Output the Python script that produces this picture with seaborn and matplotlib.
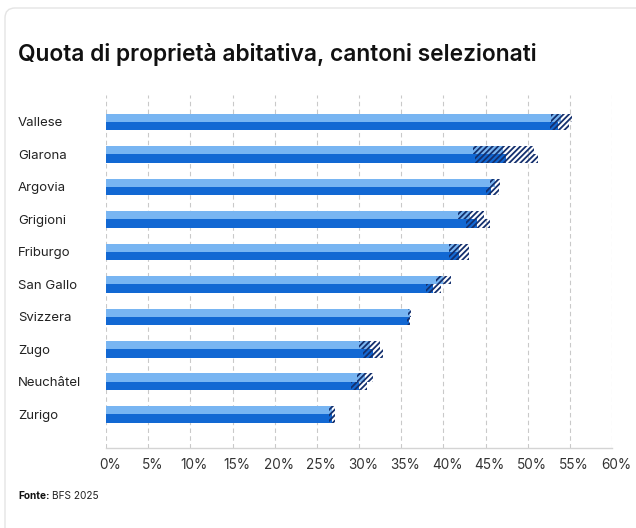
import matplotlib
matplotlib.use("Agg")
import matplotlib.pyplot as plt
import matplotlib.transforms as mtrans
import seaborn as sns
import pandas as pd
from matplotlib.patches import FancyBboxPatch
from matplotlib.ticker import MultipleLocator, FuncFormatter

# ---- data ----
cantons = ["Vallese", "Glarona", "Argovia", "Grigioni", "Friburgo",
           "San Gallo", "Svizzera", "Zugo", "Neuchâtel", "Zurigo"]
series = ["Serie A", "Serie B"]
light_val = [53.9, 47.1, 46.1, 43.2, 41.9, 40.0, 36.0, 31.3, 30.7, 26.8]
light_lo = [52.8, 43.5, 45.5, 41.7, 40.7, 39.1, 35.8, 30.0, 29.8, 26.5]
light_hi = [55.2, 50.8, 46.7, 44.8, 43.1, 40.9, 36.2, 32.5, 31.7, 27.2]
dark_val = [53.6, 47.4, 45.7, 44.0, 41.9, 38.8, 35.9, 31.7, 30.0, 26.8]
dark_lo = [52.6, 43.8, 45.0, 42.7, 40.7, 38.0, 35.7, 30.5, 29.1, 26.4]
dark_hi = [54.9, 51.2, 46.6, 45.5, 43.1, 39.7, 36.1, 32.9, 31.0, 27.1]

LIGHT = "#78b5f2"
DARK = "#1268d3"
NAVY = "#14306e"

df = pd.DataFrame({
    "cantone": cantons * 2,
    "serie": [series[0]] * len(cantons) + [series[1]] * len(cantons),
    "valore": light_val + dark_val,
})

sns.set_theme(style="white")
plt.rcParams["font.family"] = ["Inter", "DejaVu Sans"]
plt.rcParams["hatch.linewidth"] = 1.3

fig = plt.figure(figsize=(6.36, 5.28), dpi=100)
ax = fig.add_axes([106 / 636, 80 / 528, 506 / 636, 353 / 528])

sns.barplot(data=df, y="cantone", x="valore", hue="serie", order=cantons,
            hue_order=series, orient="h", palette=[LIGHT, DARK], width=0.51,
            dodge=True, legend=False, saturation=1, errorbar=None, ax=ax,
            linewidth=0)

# hatched uncertainty ranges
for cont, lo, hi in zip(ax.containers, [light_lo, dark_lo], [light_hi, dark_hi]):
    for bar, l, h in zip(list(cont), lo, hi):
        ax.barh(bar.get_y() + bar.get_height() / 2, h - l, left=l,
                height=bar.get_height(), facecolor="none", edgecolor=NAVY,
                hatch="//////", linewidth=0, zorder=3)

ax.set_xlim(0, 60)
ax.set_ylim(10.04, -0.83)
ax.xaxis.set_major_locator(MultipleLocator(5))
ax.xaxis.set_major_formatter(FuncFormatter(lambda v, p: f"{int(v)}%"))
ax.set_xlabel("")
ax.set_ylabel("")
ax.set_axisbelow(True)
ax.grid(axis="x", color="#c9c9c9", linestyle=(0, (4, 3)), linewidth=0.8)
ax.grid(axis="y", visible=False)
for s in ["left", "top", "right"]:
    ax.spines[s].set_visible(False)
ax.spines["bottom"].set_color("#d4d4d4")
ax.spines["bottom"].set_linewidth(1)

ax.tick_params(axis="y", length=0, pad=63.4, labelsize=9.5, labelcolor="#222222")
for t in ax.get_yticklabels():
    t.set_ha("left")
ax.tick_params(axis="x", length=0, pad=7, labelsize=9.8, labelcolor="#333333")
shift = mtrans.ScaledTranslation(4 / 100, 0, fig.dpi_scale_trans)
for t in ax.get_xticklabels():
    t.set_transform(t.get_transform() + shift)

# title
fig.text(18 / 636, 1 - 55 / 528, "Quota di proprietà abitativa, cantoni selezionati",
         fontsize=16.4, fontweight="semibold", color="#111111", va="center", ha="left")

# source
t1 = fig.text(18 / 636, 1 - 496 / 528, "Fonte:", fontsize=7.3, fontweight="bold",
              color="#111111", va="center", ha="left")
ax.annotate("BFS 2025", xy=(1, 0), xycoords=t1, xytext=(2, 0),
            textcoords="offset points", fontsize=7.3, color="#222222",
            va="bottom", ha="left", annotation_clip=False)

# card border
card = FancyBboxPatch((0.05, -0.3), 6.6, 5.28 - 0.08 + 0.3,
                      boxstyle="round,pad=0,rounding_size=0.1",
                      transform=fig.dpi_scale_trans, facecolor="none",
                      edgecolor="#e4e4e4", linewidth=1)
fig.add_artist(card)

fig.savefig("out.png", dpi=100)
